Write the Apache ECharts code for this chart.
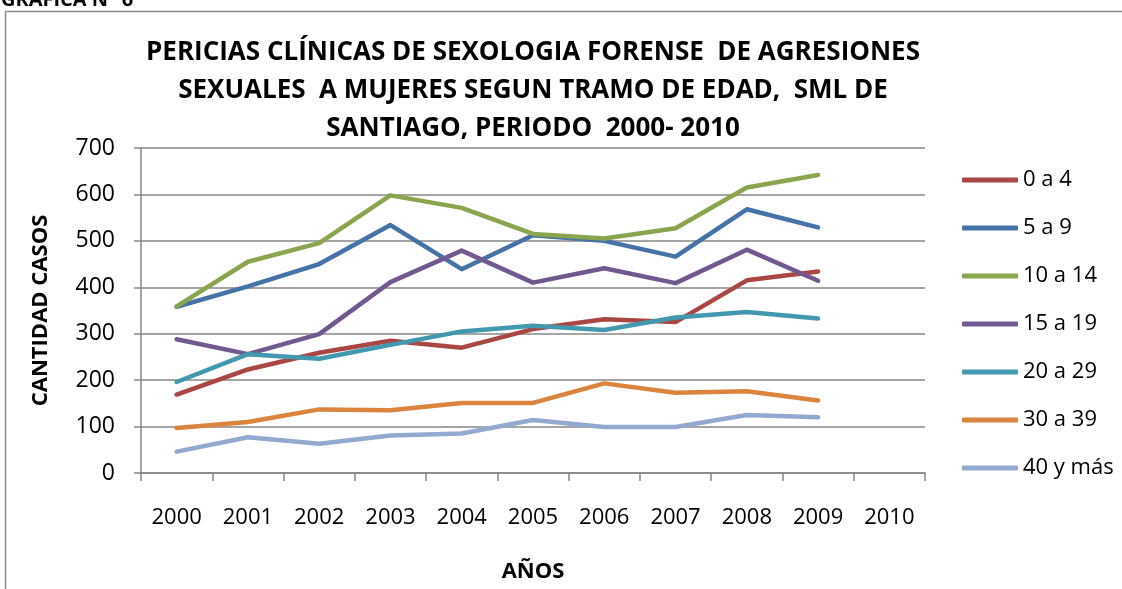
<!DOCTYPE html>
<html>
<head>
<meta charset="utf-8">
<script src="https://cdn.jsdelivr.net/npm/echarts@6/dist/echarts.min.js"></script>
<style>
html,body{margin:0;padding:0;background:#fff;}
#chart{width:1122px;height:589px;}
</style>
</head>
<body>
<div id="chart"></div>
<script>
const years = ['2000','2001','2002','2003','2004','2005','2006','2007','2008','2009','2010'];
const seriesNames = ['0 a 4','5 a 9','10 a 14','15 a 19','20 a 29','30 a 39','40 y más'];
const age0to4   = [169, 223, 259, 285, 270, 310, 331, 325, 415, 434];
const age5to9   = [358, 402, 450, 534, 439, 512, 500, 466, 568, 529];
const age10to14 = [359, 455, 495, 598, 571, 515, 505, 527, 615, 642];
const age15to19 = [288, 256, 299, 411, 479, 410, 441, 409, 481, 414];
const age20to29 = [196, 256, 246, 276, 305, 317, 308, 335, 347, 333];
const age30to39 = [97, 110, 137, 135, 151, 151, 193, 173, 176, 156];
const age40plus = [46, 77, 63, 81, 85, 114, 99, 99, 125, 120];
const yTicks = [0, 100, 200, 300, 400, 500, 600, 700];

const seriesData = [age0to4, age5to9, age10to14, age15to19, age20to29, age30to39, age40plus];
const colors = ['#AA4643','#4572A7','#89A54E','#71588F','#4198AF','#DB843D','#93A9CF'];
const font = '"Open Sans", sans-serif';

const chart = echarts.init(document.getElementById('chart'), null, {renderer:'canvas'});
chart.setOption({
  animation: false,
  backgroundColor: '#fff',
  color: colors,
  title: {
    text: 'PERICIAS CLÍNICAS DE SEXOLOGIA FORENSE  DE AGRESIONES\nSEXUALES  A MUJERES SEGUN TRAMO DE EDAD,  SML DE\nSANTIAGO, PERIODO  2000- 2010',
    left: 528, top: 29, textAlign: 'center',
    textStyle: {fontFamily: font, fontWeight: 'bold', fontSize: 26, lineHeight: 38, color: '#000'}
  },
  graphic: [
    {type: 'rect', silent: true, shape: {x: 5.5, y: 11.5, width: 1300, height: 800},
     style: {fill: 'none', stroke: '#8c8c8c', lineWidth: 1.5}},
    {type: 'text', silent: true, left: 1, top: -10,
     style: {text: 'GRAFICA N° 6', font: 'bold 20px "Open Sans", sans-serif', fill: '#000'}}
  ],
  legend: {
    orient: 'vertical', left: 957, top: 164,
    data: seriesNames.map(n => ({name: n, icon: 'roundRect'})),
    itemWidth: 56, itemHeight: 5, itemGap: 26, itemTextGap: 4,
    textStyle: {fontFamily: font, fontSize: 22, lineHeight: 22, color: '#000'}
  },
  grid: {left: 141, right: 197, top: 148, bottom: 116, outerBoundsMode: 'none'},
  xAxis: {
    type: 'category', data: years, boundaryGap: true,
    name: 'AÑOS', nameLocation: 'middle', nameGap: 88,
    nameTextStyle: {fontFamily: font, fontWeight: 'bold', fontSize: 22, color: '#000'},
    axisLine: {lineStyle: {color: '#868686', width: 1.5}},
    axisTick: {show: true, length: 8, interval: 0, lineStyle: {color: '#868686', width: 1.5}},
    axisLabel: {interval: 0, margin: 34, fontFamily: font, fontSize: 22, color: '#000'},
    splitLine: {show: false}
  },
  yAxis: {
    type: 'value', min: 0, max: 700, interval: 100,
    name: 'CANTIDAD CASOS', nameLocation: 'middle', nameGap: 89, nameRotate: 90,
    nameTextStyle: {fontFamily: font, fontWeight: 'bold', fontSize: 22, color: '#000'},
    axisLine: {show: true, lineStyle: {color: '#868686', width: 1.5}},
    axisTick: {show: true, length: 7, lineStyle: {color: '#868686', width: 1.5}},
    axisLabel: {margin: 26, fontFamily: font, fontSize: 23, color: '#000',
      formatter: v => yTicks.includes(v) ? String(v) : ''},
    splitLine: {show: true, lineStyle: {color: '#878787', width: 1.5}}
  },
  series: seriesNames.map((n, i) => ({
    name: n, type: 'line', data: seriesData[i],
    symbol: 'none', smooth: false,
    lineStyle: {width: 4.5, color: colors[i], cap: 'round', join: 'round'},
    itemStyle: {color: colors[i]}
  }))
});
</script>
</body>
</html>
